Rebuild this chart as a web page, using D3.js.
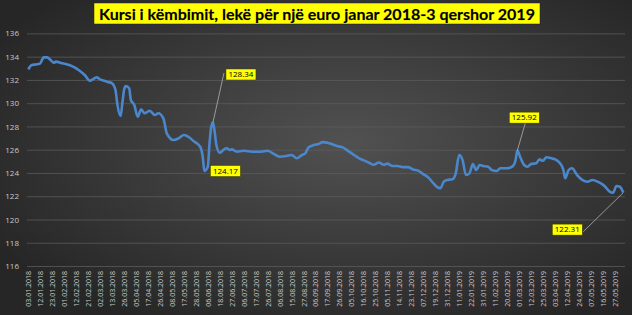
<!DOCTYPE html>
<html>
<head>
<meta charset="utf-8">
<script src="https://cdn.jsdelivr.net/npm/d3@7"></script>
<style>
  body { margin: 0; background: #2b2b2b; }
  svg { display: block; }
  .y-axis text { fill: #c8c8c8; font-size: 8px; font-family: 'Open Sans', sans-serif; }
  .x-axis text { fill: #c8c8c8; font-size: 7px; font-family: 'Open Sans', sans-serif; }
  .callout text { font-size: 8px; font-family: 'Open Sans', sans-serif; fill: #000; }
</style>
</head>
<body>
<svg id="chart" width="632" height="315"></svg>
<script>
const titleText = 'Kursi i këmbimit, lekë për një euro janar 2018-3 qershor 2019';

const tickDates = [
  '03.01.2018', '12.01.2018', '23.01.2018', '01.02.2018', '12.02.2018', '21.02.2018',
  '02.03.2018', '13.03.2018', '26.03.2018', '05.04.2018', '17.04.2018', '26.04.2018',
  '08.05.2018', '17.05.2018', '28.05.2018', '06.06.2018', '18.06.2018', '27.06.2018',
  '06.07.2018', '17.07.2018', '26.07.2018', '06.08.2018', '15.08.2018', '27.08.2018',
  '06.09.2018', '17.09.2018', '26.09.2018', '05.10.2018', '16.10.2018', '25.10.2018',
  '05.11.2018', '14.11.2018', '23.11.2018', '07.12.2018', '19.12.2018', '31.12.2018',
  '11.01.2019', '22.01.2019', '31.01.2019', '11.02.2019', '20.02.2019', '01.03.2019',
  '12.03.2019', '25.03.2019', '03.04.2019', '12.04.2019', '24.04.2019', '07.05.2019',
  '16.05.2019', '27.05.2019'
];
const tickStep = 7;      // one label every 7 trading days
const lastDay = 348;     // 03.06.2019

const yTicks = [116, 118, 120, 122, 124, 126, 128, 130, 132, 134, 136];

// [trading day index, lek per euro]
const rate = [
  [0, 132.91], [2, 133.28], [5, 133.34], [7, 133.43], [9, 133.94], [11, 133.94],
  [13, 133.71], [15, 133.48], [16, 133.57], [20, 133.43], [24, 133.28], [27, 133.08],
  [30, 132.79], [33, 132.42], [36, 131.93], [37, 131.99], [40, 132.22], [42, 132.05],
  [46, 131.85], [49, 131.71], [51, 131.13], [52, 129.99], [54, 128.90], [55, 129.99],
  [56, 131.13], [57, 131.48], [59, 131.28], [60, 130.27], [62, 129.84], [64, 128.84],
  [66, 129.47], [68, 129.13], [71, 129.35], [74, 128.98], [76, 129.13], [79, 128.70],
  [81, 127.41], [85, 126.83], [88, 126.98], [91, 127.26], [94, 127.07], [97, 126.70],
  [99, 126.50], [101, 126.10], [102, 125.40], [103, 124.17], [105, 124.54], [106, 126.55],
  [107, 127.98], [108, 128.34], [109, 127.55], [110, 126.40], [112, 125.74], [114, 125.97],
  [116, 126.12], [118, 125.97], [119, 126.03], [122, 125.83], [126, 125.91], [131, 125.83],
  [136, 125.83], [140, 125.91], [143, 125.69], [147, 125.40], [151, 125.46], [154, 125.54],
  [157, 125.26], [160, 125.54], [162, 125.69], [164, 126.21], [167, 126.40], [170, 126.50],
  [172, 126.65], [175, 126.60], [178, 126.45], [181, 126.30], [184, 126.20], [187, 125.90],
  [190, 125.60], [193, 125.30], [196, 125.10], [199, 124.90], [202, 124.70], [205, 124.90],
  [208, 124.70], [210, 124.80], [213, 124.60], [216, 124.60], [219, 124.50], [222, 124.50],
  [225, 124.30], [228, 124.20], [231, 123.90], [234, 123.60], [237, 123.10], [239, 122.80],
  [241, 122.68], [243, 123.25], [245, 123.40], [248, 123.45], [250, 123.97], [252, 125.54],
  [254, 125.11], [256, 123.82], [258, 123.97], [260, 124.77], [262, 124.25], [264, 124.68],
  [266, 124.60], [269, 124.54], [271, 124.25], [274, 124.17], [276, 124.40], [280, 124.40],
  [283, 124.54], [285, 125.11], [286, 125.92], [288, 125.26], [290, 124.68], [292, 124.54],
  [294, 124.77], [297, 124.83], [299, 125.17], [301, 125.05], [303, 125.35], [306, 125.26],
  [309, 125.11], [311, 124.83], [313, 124.25], [314, 123.54], [316, 124.25], [318, 124.40],
  [321, 123.82], [324, 123.40], [327, 123.25], [330, 123.40], [333, 123.25], [337, 122.88],
  [340, 122.39], [342, 122.30], [344, 122.88], [346, 122.82], [348, 122.31]
];

// highlighted values
const callouts = [
  { day: 108, value: 128.34 },
  { day: 103, value: 124.17 },
  { day: 286, value: 125.92 },
  { day: 348, value: 122.31 }
];
// box offsets from the point (box centre), and where the leader starts
const calloutLayout = [
  { dx: 28, dy: -48, lead: 'left' },
  { dx: 21, dy: 0, lead: null },
  { dx: 7, dy: -33, lead: 'bottom' },
  { dx: -56, dy: 37, lead: 'right' }
];

const svg = d3.select('#chart');
const width = +svg.attr('width');
const height = +svg.attr('height');

// background
const defs = svg.append('defs');
const grad = defs.append('radialGradient')
    .attr('id', 'bg')
    .attr('cx', '55%').attr('cy', '45%').attr('r', '65%');
grad.append('stop').attr('offset', '0%').attr('stop-color', '#515151');
grad.append('stop').attr('offset', '100%').attr('stop-color', '#262626');
svg.append('rect')
    .attr('width', width).attr('height', height)
    .attr('fill', 'url(#bg)');

const plot = { left: 27, right: 625, top: 33.4, bottom: 266 };

const xScale = d3.scaleLinear()
  .domain([0, lastDay])
  .range([28.3, 623.3]);

const yScale = d3.scaleLinear()
  .domain([116, 136])
  .range([plot.bottom, plot.top]);

// y axis + gridlines
const yAxisG = svg.append('g')
    .attr('class', 'y-axis')
    .attr('transform', `translate(${plot.left},0)`)
    .call(d3.axisLeft(yScale)
      .tickValues(yTicks)
      .tickSize(-(plot.right - plot.left))
      .tickPadding(8));
yAxisG.select('.domain').remove();
yAxisG.selectAll('line')
    .attr('stroke', '#5e5e5e')
    .attr('stroke-width', 0.75);

// x axis labels
const xAxisG = svg.append('g')
    .attr('class', 'x-axis')
    .attr('transform', `translate(0,${plot.bottom})`)
    .call(d3.axisBottom(xScale)
      .tickValues(tickDates.map((d, i) => i * tickStep))
      .tickFormat((d, i) => tickDates[i])
      .tickSize(0));
xAxisG.select('.domain').remove();
xAxisG.selectAll('text')
    .attr('transform', 'rotate(-90)')
    .attr('text-anchor', 'end')
    .attr('x', -5)
    .attr('y', 0)
    .attr('dy', '0.35em');

// line
const line = d3.line()
  .x(d => xScale(d[0]))
  .y(d => yScale(d[1]))
  .curve(d3.curveMonotoneX);

svg.append('path')
    .datum(rate)
    .attr('fill', 'none')
    .attr('stroke', '#4a87cc')
    .attr('stroke-width', 2.6)
    .attr('stroke-linejoin', 'round')
    .attr('d', line);

// callouts
const boxW = 30, boxH = 11;
callouts.forEach((c, i) => {
  const lay = calloutLayout[i];
  const px = xScale(c.day), py = yScale(c.value);
  const cx = px + lay.dx, cy = py + lay.dy;
  const g = svg.append('g').attr('class', 'callout');
  if (lay.lead) {
    let lx = cx, ly = cy;
    if (lay.lead === 'left') { lx = cx - boxW / 2 - 2; ly = cy - 1.5; }
    if (lay.lead === 'right') { lx = cx + boxW / 2 + 1; ly = cy + 2; }
    if (lay.lead === 'bottom') { lx = cx + 1; ly = cy + boxH / 2; }
    g.append('line')
      .attr('x1', lx).attr('y1', ly)
      .attr('x2', px).attr('y2', py)
      .attr('stroke', '#b0b0b0')
      .attr('stroke-width', 0.8);
  }
  g.append('rect')
    .attr('x', cx - boxW / 2).attr('y', cy - boxH / 2)
    .attr('width', boxW).attr('height', boxH)
    .attr('fill', '#ffff00')
    .attr('stroke', '#3a3a00')
    .attr('stroke-width', 0.5);
  g.append('text')
    .attr('x', cx).attr('y', cy)
    .attr('dy', '0.35em')
    .attr('text-anchor', 'middle')
    .text(c.value.toFixed(2));
});

// title
const titleG = svg.append('g');
const titleBox = titleG.append('rect')
    .attr('x', 94).attr('y', 3)
    .attr('width', 446).attr('height', 21)
    .attr('fill', '#ffff00')
    .attr('stroke', '#222')
    .attr('stroke-width', 0.5);
const title = titleG.append('text')
    .attr('x', 317).attr('y', 14)
    .attr('dy', '0.35em')
    .attr('text-anchor', 'middle')
    .style('font-family', 'Lato, sans-serif')
    .style('font-weight', 'bold')
    .style('font-size', '14px')
    .style('fill', '#000')
    .style('paint-order', 'stroke')
    .style('stroke', 'rgba(0,0,0,0.25)')
    .style('stroke-width', '0.6px')
    .text(titleText);
const tw = title.node().getComputedTextLength();
title.style('font-size', (14 * 436 / tw).toFixed(2) + 'px');
</script>
</body>
</html>
